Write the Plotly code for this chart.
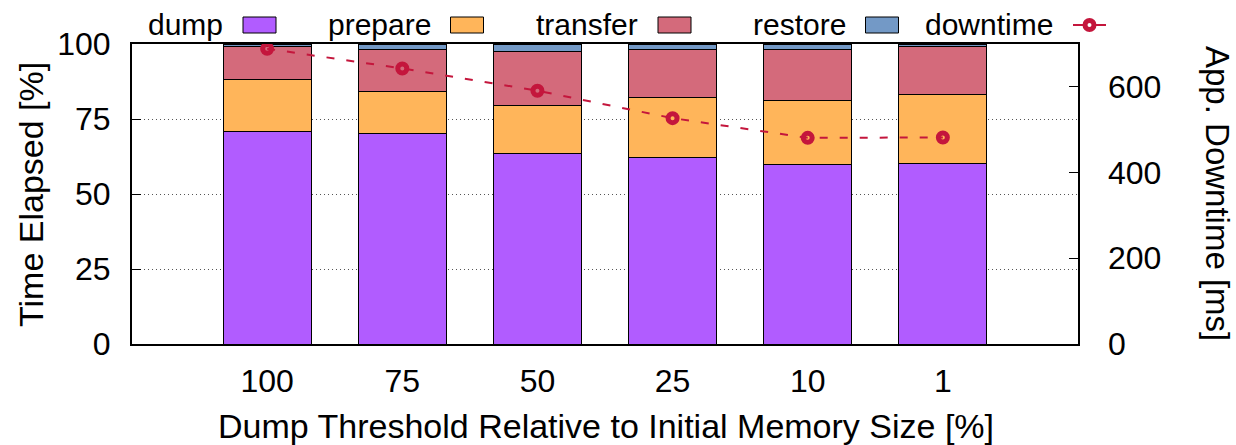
import plotly.graph_objects as go

# Dump threshold relative to initial memory size [%]
categories = ["100", "75", "50", "25", "10", "1"]

# Share of total migration time per phase [%]
dump = [71.0, 70.1, 63.6, 62.1, 60.0, 60.2]
prepare = [17.1, 14.0, 16.0, 20.0, 21.1, 22.9]
transfer = [11.0, 14.1, 18.0, 16.1, 17.1, 16.0]
restore = [0.9, 1.8, 2.4, 1.8, 1.8, 0.9]

# Application downtime [ms]
downtime = [689, 643, 591, 527, 481, 482]

series_names = ["dump", "prepare", "transfer", "restore"]
series_values = [dump, prepare, transfer, restore]
series_colors = ["#b15cff", "#ffb55a", "#d46a7b", "#7399c6"]
line_color = "#c4163c"

FONT = "Liberation Sans, Arial, sans-serif"
W, H = 1236, 445
L, R, T, B = 132, 158, 44, 101
PW, PH = W - L - R, H - T - B


def px_x(px):
    return (px - L) / PW


def px_y(py):
    return (H - B - py) / PH


fig = go.Figure()

for name, vals, col in zip(series_names, series_values, series_colors):
    fig.add_trace(go.Bar(
        x=categories, y=vals, name=name, width=0.65,
        marker=dict(color=col, line=dict(color="#000000", width=1)),
        showlegend=False,
    ))

fig.add_trace(go.Scatter(
    x=categories, y=downtime, name="downtime", yaxis="y2",
    mode="lines+markers",
    line=dict(color=line_color, width=2, dash="8px,12px"),
    marker=dict(symbol="circle-open", size=9, color=line_color,
                line=dict(color=line_color, width=5)),
    showlegend=False,
))

# Legend drawn along the top edge: label followed by its sample
shapes = []
annotations = []
first_box = 243
step = 207.5
box_w, box_top, box_bot = 33, 17, 33
legend_names = series_names + ["downtime"]
for i, name in enumerate(legend_names):
    x0 = first_box + i * step
    annotations.append(dict(
        text=name, xref="paper", yref="paper",
        x=px_x(x0 - 18), y=px_y(24), xanchor="right", yanchor="middle",
        showarrow=False, font=dict(family=FONT, size=30, color="#000000"),
    ))
    if i < len(series_names):
        shapes.append(dict(
            type="rect", xref="paper", yref="paper",
            x0=px_x(x0), x1=px_x(x0 + box_w), y0=px_y(box_bot), y1=px_y(box_top),
            fillcolor=series_colors[i], line=dict(color="#000000", width=1),
        ))
    else:
        shapes.append(dict(
            type="line", xref="paper", yref="paper",
            x0=px_x(x0), x1=px_x(x0 + box_w), y0=px_y(25), y1=px_y(25),
            line=dict(color=line_color, width=2),
        ))
        cx = x0 + box_w / 2
        shapes.append(dict(
            type="circle", xref="paper", yref="paper",
            x0=px_x(cx - 4.5), x1=px_x(cx + 4.5), y0=px_y(29.5), y1=px_y(20.5),
            fillcolor="#ffffff", line=dict(color=line_color, width=5),
        ))

# Axis titles
annotations.append(dict(
    text="Time Elapsed [%]", xref="paper", yref="paper",
    x=px_x(31), y=px_y(195), xanchor="center", yanchor="middle",
    textangle=-90, showarrow=False, font=dict(family=FONT, size=34, color="#000000"),
))
annotations.append(dict(
    text="App. Downtime [ms]", xref="paper", yref="paper",
    x=px_x(1218), y=px_y(193), xanchor="center", yanchor="middle",
    textangle=90, showarrow=False, font=dict(family=FONT, size=33, color="#000000"),
))
annotations.append(dict(
    text="Dump Threshold Relative to Initial Memory Size [%]", xref="paper", yref="paper",
    x=px_x(606), y=px_y(426), xanchor="center", yanchor="middle",
    showarrow=False, font=dict(family=FONT, size=34, color="#000000"),
))

fig.update_layout(
    width=W, height=H,
    margin=dict(l=L, r=R, t=T, b=B, pad=0),
    paper_bgcolor="#ffffff", plot_bgcolor="#ffffff",
    barmode="stack", bargap=0.35,
    font=dict(family=FONT, size=32, color="#000000"),
    shapes=shapes, annotations=annotations,
    xaxis=dict(
        type="category", range=[-1, 6],
        showline=True, linecolor="#000000", linewidth=2, mirror=True,
        ticks="", showgrid=False, zeroline=False,
        tickfont=dict(family=FONT, size=32), ticklabelstandoff=8,
    ),
    yaxis=dict(
        range=[0, 100], tickvals=[0, 25, 50, 75, 100],
        showline=True, linecolor="#000000", linewidth=2, mirror=True,
        ticks="inside", ticklen=9, tickcolor="#000000", tickwidth=1,
        showgrid=True, gridcolor="#555555", griddash="1px,3px", gridwidth=1,
        zeroline=False, tickfont=dict(family=FONT, size=32), ticklabelstandoff=13,
    ),
    yaxis2=dict(
        range=[0, 700], tickvals=[0, 200, 400, 600],
        overlaying="y", side="right",
        showline=False, ticks="inside", ticklen=9, tickcolor="#000000", tickwidth=1,
        showgrid=False, zeroline=False,
        tickfont=dict(family=FONT, size=32), ticklabelstandoff=29,
    ),
)

fig.write_html("out.html")
